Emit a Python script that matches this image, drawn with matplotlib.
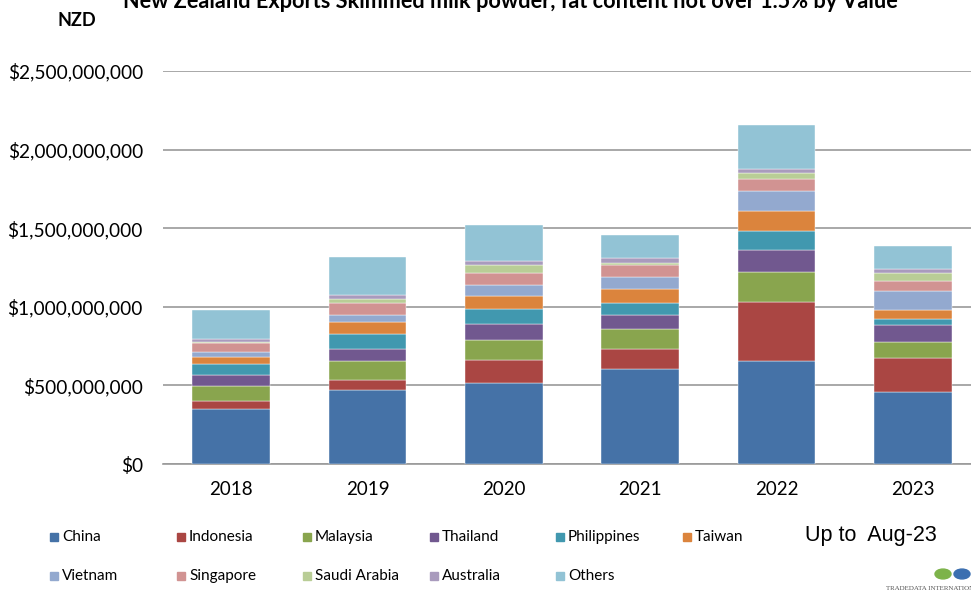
import matplotlib
matplotlib.use("Agg")
import matplotlib.pyplot as plt
from matplotlib.patches import Rectangle
import numpy as np

years = ["2018", "2019", "2020", "2021", "2022", "2023"]
countries = ["China", "Indonesia", "Malaysia", "Thailand", "Philippines", "Taiwan",
             "Vietnam", "Singapore", "Saudi Arabia", "Australia", "Others"]

# values in NZD millions
china       = [348, 469, 513, 602, 657, 458]
indonesia   = [55, 65, 151, 131, 375, 218]
malaysia    = [95, 119, 127, 124, 187, 98]
thailand    = [66, 80, 97, 93, 144, 112]
philippines = [74, 96, 96, 72, 121, 36]
taiwan      = [43, 74, 87, 89, 123, 59]
vietnam     = [34, 47, 66, 77, 127, 117]
singapore   = [53, 72, 80, 80, 81, 68]
saudi       = [10, 27, 49, 12, 34, 51]
australia   = [15, 28, 27, 32, 25, 21]
others      = [187, 238, 227, 147, 282, 151]

series = [china, indonesia, malaysia, thailand, philippines, taiwan,
          vietnam, singapore, saudi, australia, others]
colors = ["#4572A7", "#AA4643", "#89A54E", "#71588F", "#4198AF", "#DB843D",
          "#93A9CF", "#D19392", "#B9CD96", "#A99BBD", "#92C3D5"]

yticks = [0, 500e6, 1000e6, 1500e6, 2000e6, 2500e6]
ytick_labels = ["$0", "$500,000,000", "$1,000,000,000", "$1,500,000,000",
                "$2,000,000,000", "$2,500,000,000"]

FONT = ["Lato", "DejaVu Sans"]
plt.rcParams["font.family"] = FONT

W, H = 971, 599
fig = plt.figure(figsize=(W / 100, H / 100), dpi=100)
left, right, bottom, top = 163, 981, 464, 71
ax = fig.add_axes([left / W, 1 - bottom / H, (right - left) / W, (bottom - top) / H])

x = np.arange(len(years))
base = np.zeros(len(years))
for name, vals, c in zip(countries, series, colors):
    v = np.array(vals) * 1e6
    ax.bar(x, v, bottom=base, width=0.57, color=c, edgecolor="white", linewidth=0.3, zorder=3)
    base += v

ax.set_xlim(-0.5, len(years) - 0.5)
ax.set_ylim(0, 2500e6)
ax.set_yticks(yticks)
ax.set_yticklabels(ytick_labels, fontsize=13.8)
ax.set_xticks(x)
ax.set_xticklabels(years, fontsize=13.5)
ax.tick_params(axis="both", length=0)
ax.tick_params(axis="y", pad=14.5)
ax.tick_params(axis="x", pad=12)
ax.yaxis.grid(True, color="#9a9a9a", linewidth=1.2, zorder=0)
for s in ["top", "right", "left"]:
    ax.spines[s].set_visible(False)
ax.spines["bottom"].set_color("#9a9a9a")
ax.spines["bottom"].set_linewidth(1.2)

fig.text(510 / W, 1 - 2 / H, "New Zealand Exports Skimmed milk powder, fat content not over 1.5% by Value",
         ha="center", va="center", fontsize=15.6, fontweight="bold")
fig.text(57 / W, 1 - 20 / H, "NZD", ha="left", va="center", fontsize=13, fontweight="bold")

# legend
col_x = [50, 177, 303, 430, 556, 683]
row_y = [537, 576]
for i, (name, c) in enumerate(zip(countries, colors)):
    r, k = (0, i) if i < 6 else (1, i - 6)
    px, py = col_x[k], row_y[r]
    fig.add_artist(Rectangle((px / W, 1 - (py + 4) / H), 8 / W, 8 / H,
                             transform=fig.transFigure, color=c))
    fig.text((px + 12) / W, 1 - py / H, name, ha="left", va="center", fontsize=11)

fig.text(805 / W, 1 - 535 / H, "Up to  Aug-23", ha="left", va="center", fontsize=15.5,
         family=["Liberation Sans", "DejaVu Sans"])
fig.text(886 / W, 1 - 588 / H, "TRADEDATA INTERNATIONAL", ha="left", va="center", fontsize=5,
         family=["Liberation Serif", "DejaVu Serif"], color="#555555")
fig.add_artist(plt.Circle((943 / W, 1 - 574 / H), 8 / W, transform=fig.transFigure, color="#7DB34A"))
fig.add_artist(plt.Circle((962 / W, 1 - 574 / H), 8 / W, transform=fig.transFigure, color="#3B6FB0"))

fig.savefig("out.png", dpi=100)
